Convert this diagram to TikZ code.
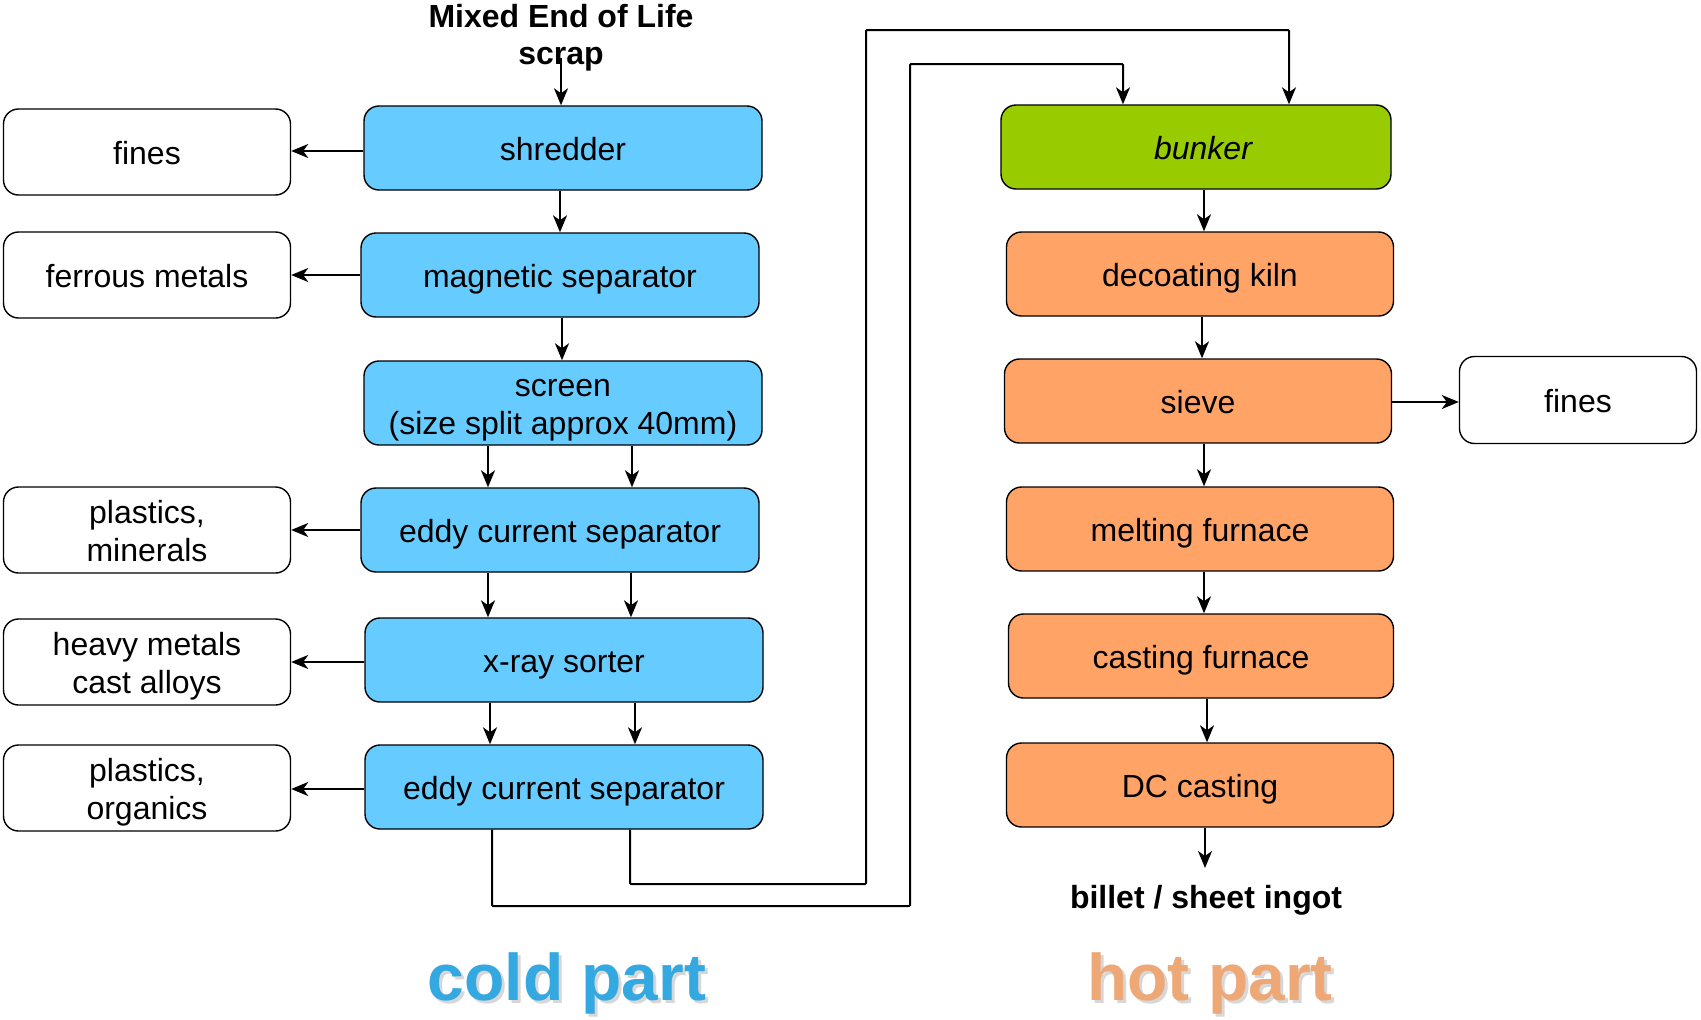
\documentclass[tikz,border=0pt]{standalone}
\usepackage{fontspec}
\setmainfont{Liberation Sans}
\usetikzlibrary{arrows.meta}
\definecolor{coldblue}{HTML}{66CCFF}
\definecolor{hotorange}{HTML}{FFA366}
\definecolor{bunkergreen}{HTML}{99CC00}
\definecolor{coldtitle}{RGB}{52,168,224}
\definecolor{hottitle}{RGB}{238,168,118}
\tikzset{
  box/.style={draw=black, line width=1.4pt, rounded corners=15pt, inner sep=0pt,
    minimum height=84pt, align=center, font=\fontsize{32}{38}\selectfont,
    text height=28pt, text depth=3pt},
  twolines/.style={text height=66pt, text depth=3pt},
  cold/.style={box, fill=coldblue, minimum width=398pt},
  hot/.style={box, fill=hotorange, minimum width=387pt},
  outbox/.style={box, fill=white, minimum width=287pt, minimum height=86pt},
  arr/.style={line width=2pt, -{Stealth[length=17pt,width=14pt,inset=5pt]}},
  lbl/.style={font=\bfseries\fontsize{32}{37}\selectfont, align=center, inner sep=0pt},
  part/.style={font=\bfseries\fontsize{66}{70}\selectfont, inner sep=0pt, anchor=base},
  partshadow/.style={part, text=black!45, opacity=0.35}
}
\begin{document}
\begin{tikzpicture}[x=1pt,y=-1pt]
\useasboundingbox (0,0) rectangle (1701,1020);

% cold part: mechanical separation line
\node[lbl, anchor=north] (feed) at (561,4) {Mixed End of Life\\scrap};
\coordinate (feedout) at (561,58);
\node[cold] (shred) at (563,148) {shredder};
\node[cold] (mag)   at (560,275) {magnetic separator};
\node[cold, twolines] (scr) at (563,403) {screen\\(size split approx 40mm)};
\node[cold] (eddyA) at (560,530) {eddy current separator};
\node[cold] (xray)  at (564,660) {x-ray sorter};
\node[cold] (eddyB) at (564,787) {eddy current separator};

% rejected fractions
\node[outbox] (finesA) at (147,152) {fines};
\node[outbox] (ferr)   at (147,275) {ferrous metals};
\node[outbox, twolines] (plmin) at (147,530) {plastics,\\minerals};
\node[outbox, twolines] (heavy) at (147,662) {heavy metals\\cast alloys};
\node[outbox, twolines] (plorg) at (147,788) {plastics,\\organics};

% hot part: remelting line
\node[box, fill=bunkergreen, minimum width=390pt] (bunk) at (1196,147) {\hspace*{14pt}\itshape bunker};
\node[hot] (kiln)  at (1200,274) {decoating kiln};
\node[hot] (sieve) at (1198,401) {sieve};
\node[hot] (melt)  at (1200,529) {melting furnace};
\node[hot, minimum width=385pt] (cast) at (1201,656) {casting furnace};
\node[hot] (dc)    at (1200,785) {DC casting};
\node[outbox, minimum width=237pt, minimum height=87pt] (finesB) at (1578,400) {fines};
\node[lbl, anchor=base] (billet) at (1206,908) {billet / sheet ingot};
\coordinate (dcout) at (1205,868);

% main flow, cold side
\draw[arr] (feedout) -- (feedout |- shred.north);
\draw[arr] (shred.south -| 560,0) -- (mag.north -| 560,0);
\draw[arr] (mag.south -| 562,0) -- (scr.north -| 562,0);
\draw[arr] (scr.south -| 488,0) -- (eddyA.north -| 488,0);
\draw[arr] (scr.south -| 632,0) -- (eddyA.north -| 632,0);
\draw[arr] (eddyA.south -| 488,0) -- (xray.north -| 488,0);
\draw[arr] (eddyA.south -| 631,0) -- (xray.north -| 631,0);
\draw[arr] (xray.south -| 490,0) -- (eddyB.north -| 490,0);
\draw[arr] (xray.south -| 635,0) -- (eddyB.north -| 635,0);

% side outputs
\draw[arr] (shred.west |- 0,151) -- (finesA.east |- 0,151);
\draw[arr] (mag.west) -- (ferr.east);
\draw[arr] (eddyA.west) -- (plmin.east);
\draw[arr] (xray.west |- 0,662) -- (heavy.east |- 0,662);
\draw[arr] (eddyB.west |- 0,789) -- (plorg.east |- 0,789);

% transfer of both metal fractions to the bunker
\draw[arr, rounded corners=1pt] (eddyB.south -| 492,0) -- (492,906) -- (910,906) -- (910,64)
  -- (1123,64) -- (bunk.north -| 1123,0);
\draw[arr, rounded corners=1pt] (eddyB.south -| 630,0) -- (630,884) -- (866,884) -- (866,30)
  -- (1289,30) -- (bunk.north -| 1289,0);

% main flow, hot side
\draw[arr] (bunk.south -| 1204,0) -- (kiln.north -| 1204,0);
\draw[arr] (kiln.south -| 1202,0) -- (sieve.north -| 1202,0);
\draw[arr] (sieve.south -| 1204,0) -- (melt.north -| 1204,0);
\draw[arr] (melt.south -| 1204,0) -- (cast.north -| 1204,0);
\draw[arr] (cast.south -| 1207,0) -- (dc.north -| 1207,0);
\draw[arr] (dc.south -| dcout) -- (dcout);
\draw[arr] (sieve.east |- 0,402) -- (finesB.west |- 0,402);

% section titles with a soft drop shadow
\node[partshadow] (coldshadow) at (570,1003) {cold part};
\node[partshadow] (hotshadow)  at (1213,1003) {hot part};
\node[part, text=coldtitle] (coldlbl) at (567,1000) {cold part};
\node[part, text=hottitle]  (hotlbl)  at (1210,1000) {hot part};
\end{tikzpicture}
\end{document}
